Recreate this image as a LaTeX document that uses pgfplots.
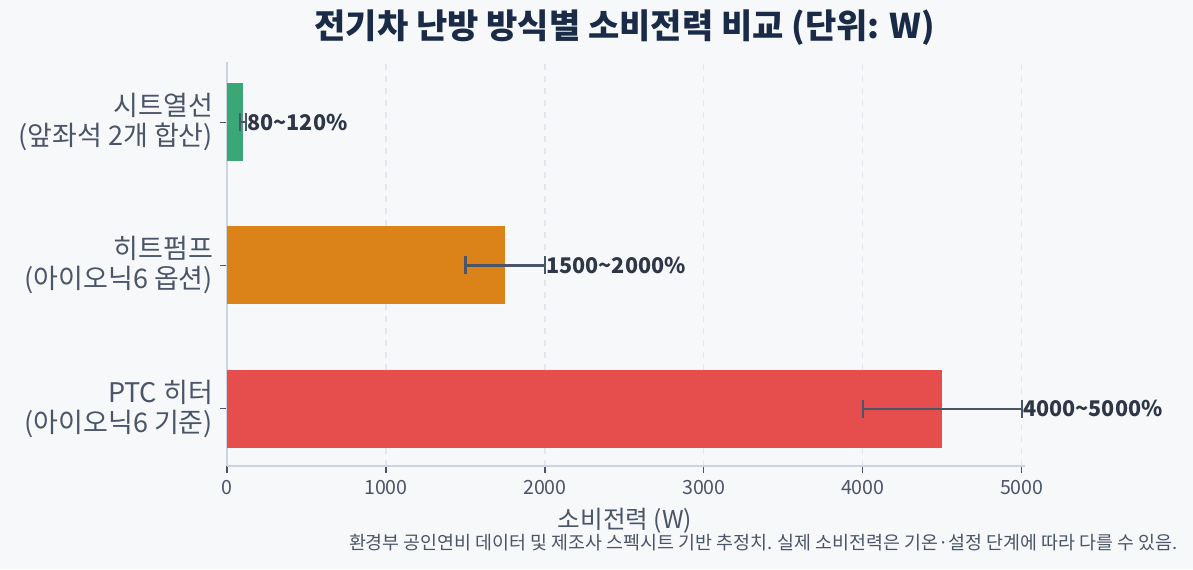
\documentclass[border=0pt]{standalone}
\usepackage{fontspec}
\usepackage{pgfplots}
\pgfplotsset{compat=1.18}
\setmainfont{Noto Sans CJK KR}
\definecolor{bg}{HTML}{F7F8FA}
\definecolor{txt}{HTML}{4A5568}
\definecolor{dark}{HTML}{2D3748}
\definecolor{ttl}{HTML}{1A2B48}
\definecolor{spine}{HTML}{CBD5E0}
\definecolor{gridc}{HTML}{E2E8F0}
\definecolor{cgreen}{HTML}{3BA776}
\definecolor{corange}{HTML}{DB8219}
\definecolor{cred}{HTML}{E64E4E}
\begin{document}
\begin{tikzpicture}
% background, 1px = 0.5pt, axis origin at pixel (227,466)
\fill[bg] (-113.5pt,-51.5pt) rectangle (483pt,233pt);
\path[use as bounding box] (-113.5pt,-51.5pt) rectangle (483pt,233pt);
\begin{axis}[
  at={(0,0)}, anchor=south west,
  scale only axis,
  width=399pt, height=202pt,
  xmin=0, xmax=5020,
  ymin=-0.4, ymax=2.42,
  xbar, bar width=39pt, bar shift=0pt,
  axis x line*=bottom, axis y line*=left,
  axis line style={spine, line width=0.8pt, -},
  xtick={0,1000,2000,3000,4000,5000},
  ytick={0,1,2},
  yticklabels={{PTC 히터\\(아이오닉6 기준)},{히트펌프\\(아이오닉6 옵션)},{시트열선\\(앞좌석 2개 합산)}},
  yticklabel style={align=right, font=\fontsize{13.5}{15}\selectfont, text=txt},
  xticklabel style={font=\fontsize{9.8}{11}\selectfont, text=txt},
  /pgf/number format/assume math mode=true,
  /pgf/number format/1000 sep={},
  tick style={txt, line width=0.6pt},
  tick align=outside,
  major tick length=3.5pt,
  xmajorgrids=true,
  grid style={gridc, dashed, line width=0.6pt},
  error bars/error bar style={draw=txt, line width=1.2pt},
  error bars/error mark options={rotate=90, mark size=4.5pt, line width=1.1pt, draw=txt},
  clip=false,
]
\addplot[fill=cred, draw=none, error bars/.cd, x dir=both, x explicit]
  coordinates {(4500,0) +- (500,0)};
\addplot[fill=corange, draw=none, error bars/.cd, x dir=both, x explicit]
  coordinates {(1750,1) +- (250,0)};
\addplot[fill=cgreen, draw=none, error bars/.cd, x dir=both, x explicit]
  coordinates {(100,2) +- (20,0)};
\addplot[draw=none, mark=none, forget plot,
  nodes near coords, point meta=explicit symbolic,
  nodes near coords style={anchor=west, inner sep=0pt, text=dark, font=\bfseries\fontsize{10.8}{12}\selectfont}]
  coordinates {
    (5005,0) [4000\textasciitilde5000\%]
    (2005,1) [1500\textasciitilde2000\%]
    (125,2) [80\textasciitilde120\%]
  };
\end{axis}
\node[font=\bfseries\fontsize{17}{19}\selectfont, text=ttl] at (199pt,219pt) {전기차 난방 방식별 소비전력 비교 (단위: W)};
\node[font=\fontsize{12.3}{14}\selectfont, text=txt] at (199pt,-27.5pt) {소비전력 (W)};
\node[anchor=east, font=\fontsize{9.2}{11}\selectfont, text=txt, inner sep=0pt] at (475.5pt,-38.5pt) {환경부 공인연비 데이터 및 제조사 스펙시트 기반 추정치. 실제 소비전력은 기온·설정 단계에 따라 다를 수 있음.};
\end{tikzpicture}
\end{document}
